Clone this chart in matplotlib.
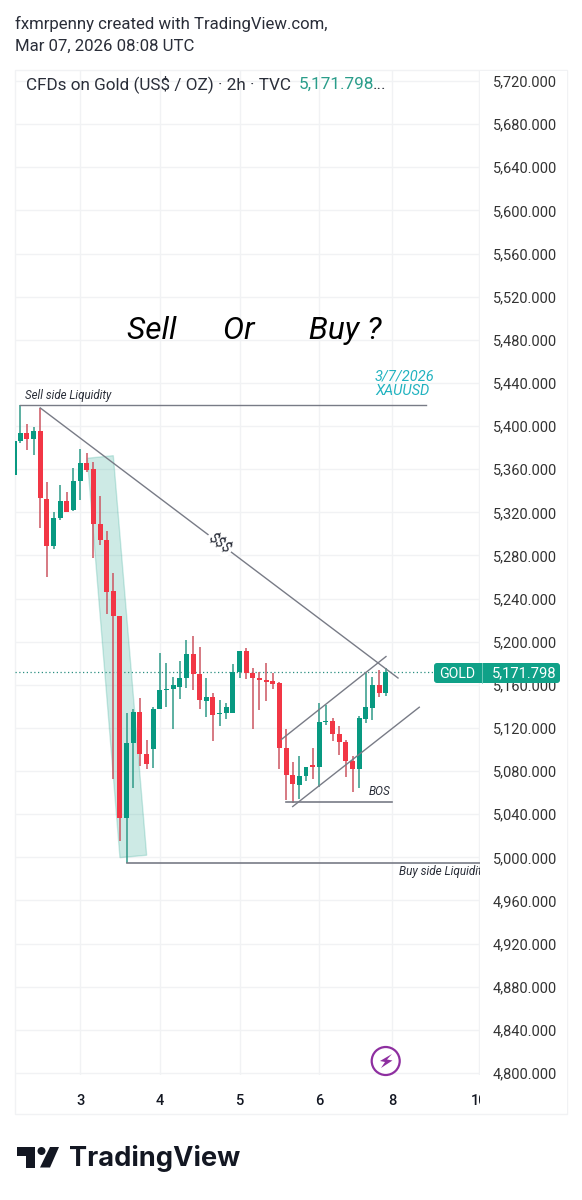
import matplotlib
matplotlib.use("Agg")
import matplotlib.pyplot as plt
from matplotlib.patches import Polygon, Circle, FancyBboxPatch, Rectangle
from matplotlib.ticker import FixedLocator, FixedFormatter

plt.rcParams['font.family'] = ['Roboto', 'DejaVu Sans']

# ---------- data ----------
bars = [-0.85] + list(range(0, 56))
opens = [5354.6, 5386.1, 5393.2, 5387.6, 5395.7, 5332.3, 5289.0, 5314.4, 5330.8, 5322.1, 5349.3, 5365.4,
         5359.8, 5309.1, 5294.3, 5247.0, 5223.8, 5036.8, 5105.7, 5135.1, 5095.8, 5100.2, 5137.3, 5154.9,
         5155.8, 5158.3, 5166.6, 5188.6, 5170.0, 5145.0, 5148.4, 5132.9, 5133.5, 5133.5, 5171.6, 5191.3,
         5171.0, 5166.4, 5164.5, 5163.6, 5162.1, 5101.2, 5076.4, 5067.2, 5075.5, 5085.7, 5083.5, 5125.3,
         5126.5, 5114.1, 5107.3, 5089.7, 5082.3, 5128.4, 5138.6, 5159.9, 5152.2]
highs = [5386.4, 5419.5, 5401.9, 5398.8, 5416.4, 5348.4, 5320.0, 5345.3, 5339.1, 5360.8, 5378.4, 5374.7,
         5366.9, 5335.1, 5302.9, 5263.4, 5223.8, 5133.5, 5137.3, 5147.5, 5108.8, 5139.1, 5189.8, 5180.5,
         5167.5, 5181.8, 5201.6, 5205.3, 5195.4, 5166.3, 5152.1, 5145.9, 5143.4, 5179.3, 5191.3, 5193.8,
         5176.0, 5171.6, 5180.0, 5170.7, 5163.0, 5118.8, 5088.2, 5094.0, 5083.8, 5101.8, 5143.5, 5141.0,
         5129.0, 5122.2, 5108.9, 5094.0, 5131.1, 5171.3, 5167.0, 5173.8, 5175.3]
lows = [5354.6, 5384.0, 5377.8, 5373.1, 5305.1, 5259.7, 5285.6, 5312.8, 5320.0, 5321.5, 5331.4, 5357.7,
        5277.9, 5289.6, 5225.7, 5072.3, 5015.5, 4995.0, 5064.0, 5085.0, 5081.9, 5082.5, 5137.3, 5139.1,
        5119.0, 5146.5, 5157.3, 5155.2, 5137.3, 5130.4, 5108.2, 5122.1, 5128.0, 5133.5, 5166.0, 5165.1,
        5119.1, 5136.7, 5145.4, 5155.9, 5081.7, 5053.2, 5050.2, 5054.2, 5070.9, 5072.4, 5065.0, 5122.8,
        5108.3, 5095.0, 5074.3, 5061.0, 5064.7, 5125.0, 5127.4, 5148.5, 5149.7]
closes = [5386.4, 5393.2, 5388.0, 5395.7, 5332.9, 5289.0, 5314.4, 5330.8, 5320.6, 5348.7, 5366.0, 5359.2,
          5309.1, 5294.3, 5246.4, 5223.8, 5036.8, 5105.7, 5135.1, 5095.5, 5086.6, 5137.3, 5155.2, 5156.1,
          5159.8, 5166.3, 5188.6, 5170.3, 5145.9, 5148.7, 5132.0, 5134.2, 5139.7, 5171.6, 5191.3, 5170.6,
          5166.4, 5164.5, 5163.0, 5160.8, 5101.2, 5076.4, 5067.8, 5075.5, 5083.8, 5083.5, 5125.6, 5126.5,
          5114.5, 5107.3, 5089.7, 5081.7, 5129.3, 5139.8, 5159.9, 5152.2, 5171.798]

last_price = 5171.798
price_ticks = [5720, 5680, 5640, 5600, 5560, 5520, 5480, 5440, 5400, 5360, 5320, 5280, 5240, 5200, 5160,
               5120, 5080, 5040, 5000, 4960, 4920, 4880, 4840, 4800]
time_tick_bars = [9, 21, 33, 45, 56, 69]
time_tick_labels = ['3', '4', '5', '6', '8', '10']

sell_side_x, sell_side_y = [0, 61], [5419.5, 5419.5]
buy_side_x, buy_side_y = [16, 70], [4995.0, 4995.0]
bos_x, bos_y = [40, 56], [5051.4, 5051.4]
trend_x, trend_y = [3, 56.85], [5416.8, 5166.3]
upper_x, upper_y = [39.34, 55.04], [5109.5, 5186.2]
lower_x, lower_y = [41.0, 60.05], [5047.1, 5139.2]
zone_x = [10.08, 14.0, 19.02, 15.0]
zone_y = [5370.1, 5372.5, 5001.9, 4999.7]

UP, DOWN = '#089981', '#f23645'
UP_WICK, DOWN_WICK = '#2f9a88', '#cc5560'
GRID = '#f1f2f4'
W, H = 582, 1200

def frac(x0, y0, x1, y1):
    return [x0 / W, 1 - y1 / H, (x1 - x0) / W, (y1 - y0) / H]

fig = plt.figure(figsize=(5.82, 12), dpi=100, facecolor='white')

# ---------- outer frame ----------
bg = fig.add_axes([0, 0, 1, 1], zorder=0)
bg.set_xlim(0, W); bg.set_ylim(H, 0); bg.axis('off')
bg.add_patch(Rectangle((14.7, 70), 552.3, 1044, fc='white', ec=GRID, lw=1))

# ---------- main pane ----------
ax = fig.add_axes(frac(14.7, 70, 480, 1075), zorder=1)
ax.patch.set_alpha(0)
ax.set_xlim((14.7 - 20.3) / 6.644, (480 - 20.3) / 6.644)
ax.set_ylim(4798.1, 5730.2)
for s in ax.spines.values():
    s.set_visible(False)
ax.xaxis.set_major_locator(FixedLocator(time_tick_bars))
ax.xaxis.set_major_formatter(FixedFormatter(time_tick_labels))
ax.yaxis.set_major_locator(FixedLocator(price_ticks))
ax.yaxis.set_major_formatter(FixedFormatter([]))
ax.tick_params(axis='y', length=0, labelleft=False)
ax.tick_params(axis='x', length=0, pad=14, labelsize=10.5, labelcolor='#131722')
for t in ax.get_xticklabels():
    t.set_fontweight('medium')
ax.grid(True, color=GRID, lw=1)
ax.set_axisbelow(True)

ax.add_patch(Polygon(list(zip(zone_x, zone_y)), closed=True, fc='#089981', ec='#089981',
                     alpha=0.2, lw=1, zorder=1.5))
ax.axhline(last_price, color='#2a8f80', lw=0.9, ls=(0, (1, 2)), zorder=1.6)

for b, o, h, l, c in zip(bars, opens, highs, lows, closes):
    up = c >= o
    ax.vlines(b, l, h, color=UP_WICK if up else DOWN_WICK, lw=1.1, zorder=2)
    ax.bar(b, abs(c - o), bottom=min(o, c), width=0.75, color=UP if up else DOWN, lw=0, zorder=2.2)

LINE = '#787b86'
ax.plot(sell_side_x, sell_side_y, color=LINE, lw=1, zorder=3)
ax.plot(buy_side_x, buy_side_y, color=LINE, lw=1.2, zorder=3)
ax.plot(bos_x, bos_y, color=LINE, lw=1.2, zorder=3)
ax.plot(trend_x, trend_y, color=LINE, lw=1, zorder=3)
ax.plot(upper_x, upper_y, color=LINE, lw=1, zorder=3)
ax.plot(lower_x, lower_y, color=LINE, lw=1, zorder=3)

ital = dict(style='italic', color='#2a2e39', zorder=4)
ax.text(0.7, 5427.9, 'Sell side Liquidity', fontsize=8.3, ha='left', va='center', **ital)
ax.text(57, 4987.3, 'Buy side Liquidity', fontsize=8.5, ha='left', va='center', clip_on=True, **ital)
ax.text(54, 5060.6, 'BOS', fontsize=8.5, ha='center', va='center', **ital)
ax.text(30.0, 5291, '$$$', fontsize=10.5, ha='center', va='center', rotation=-37,
        rotation_mode='anchor', bbox=dict(fc='white', ec='none', pad=1.5), **ital)
ax.text(16.05, 5489, 'Sell      Or       Buy ?', fontsize=22.8, ha='left', va='center', style='italic',
        color='#000000', zorder=4)
ax.text(53.4, 5445.5, '3/7/2026', fontsize=10.5, style='italic', color='#22b3c0', ha='left', va='center', zorder=4)
ax.text(53.4, 5432.5, 'XAUUSD', fontsize=10.5, style='italic', color='#22b3c0', ha='left', va='center', zorder=4)

# ---------- price scale ----------
pax = fig.add_axes(frac(480, 71, 566.5, 1113), zorder=2)
pax.set_xlim(0, 1)
pax.set_ylim(5720 - (1113 - 81) * 920 / 992, 5720 + 10 * 920 / 992)
pax.set_facecolor('white')
for s in pax.spines.values():
    s.set_visible(False)
pax.xaxis.set_visible(False)
pax.yaxis.tick_right()
pax.yaxis.set_major_locator(FixedLocator(price_ticks))
pax.yaxis.set_major_formatter(FixedFormatter([f'{p:,.3f}' for p in price_ticks]))
pax.tick_params(axis='y', length=0, labelsize=10.5, labelcolor='#333333', labelright=False, labelleft=True,
                left=False, right=False)
for t in pax.get_yticklabels():
    t.set_horizontalalignment('left')
    t.set_x(0)
pax.tick_params(axis='y', pad=-9.4)

# ---------- overlay: tag, header, logo ----------
ov = fig.add_axes([0, 0, 1, 1], zorder=3)
ov.set_xlim(0, W); ov.set_ylim(H, 0); ov.axis('off')
ov.patch.set_alpha(0)
ov.add_patch(FancyBboxPatch((436, 665), 122, 16, boxstyle='round,pad=2,rounding_size=3', fc='#10a188', ec='none'))
ov.plot([481.7, 481.7], [663, 683], color='#7fd0c2', lw=0.6)
ov.text(457.5, 674, 'GOLD', color='white', fontsize=10.2, ha='center', va='center')
ov.text(524, 673.5, f'{last_price:,.3f}', color='white', fontsize=10.6, ha='center', va='center')

hdr = dict(color='#2a2e39', ha='left', va='center')
ov.text(15, 23.5, 'fxmrpenny created with TradingView.com,', fontsize=12.1, **hdr)
ov.text(15, 46.5, 'Mar 07, 2026 08:08 UTC', fontsize=12.1, **hdr)
ov.text(26, 84.5, 'CFDs on Gold (US$ / OZ) · 2h · TVC', fontsize=12.3, **hdr)
ov.text(299, 84.5, '5,171.798', fontsize=12.3, color='#2a9d8a', ha='left', va='center')
ov.text(373, 84.5, '...', fontsize=12.3, **hdr)

# lightning icon
PURPLE = '#8e2fa0'
ov.add_patch(Circle((385.7, 1061), 14, fc='white', ec=PURPLE, lw=1.6))
ov.add_patch(Polygon([(392, 1054), (380, 1061), (385, 1062), (381, 1068), (392.5, 1060.5), (387, 1059.5)],
                     closed=True, fc=PURPLE, ec='none'))

# TradingView logo
DARK = '#131722'
ov.add_patch(Polygon([(17, 1147), (35, 1147), (35, 1167.5), (26, 1167.5), (26, 1156), (17, 1156)],
                     closed=True, fc=DARK, ec='none'))
ov.add_patch(Circle((41.5, 1151), 4, fc=DARK, ec='none'))
ov.add_patch(Polygon([(50, 1147), (59, 1147), (50, 1167.5), (40, 1167.5)], closed=True, fc=DARK, ec='none'))
ov.text(69.5, 1158.5, 'TradingView', fontsize=19.6, fontweight='bold', family=['Inter', 'DejaVu Sans'],
        color=DARK, ha='left', va='center')

fig.savefig('out.png', dpi=100, facecolor='white')
